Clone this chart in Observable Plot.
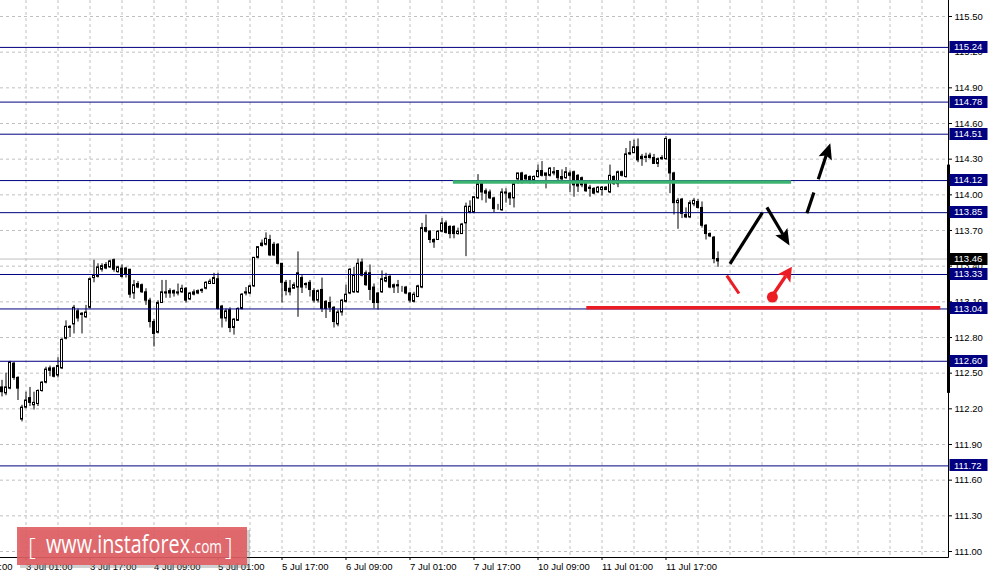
<!DOCTYPE html>
<html><head><meta charset="utf-8">
<script src="https://cdn.jsdelivr.net/npm/d3@7"></script>
<script src="https://cdn.jsdelivr.net/npm/@observablehq/plot@0.6"></script>
<style>
html,body{margin:0;padding:0;background:#fff;}
#chart svg{display:block;}
</style></head><body><div id="chart"></div>
<script>
// ---- H1 candles (bar index 0 = first visible bar) ----
const openP = [112.38,112.33,112.37,112.58,112.46,112.11,112.21,112.29,112.23,112.24,
112.35,112.42,112.54,112.54,112.48,112.54,112.79,112.88,112.91,113.02,
113.00,112.97,113.05,113.30,113.31,113.37,113.41,113.39,113.45,113.35,
113.38,113.38,113.37,113.17,113.25,113.24,113.18,113.11,112.93,112.84,
113.09,113.17,113.19,113.19,113.17,113.18,113.21,113.12,113.16,113.17,
113.20,113.21,113.25,113.25,113.29,113.06,112.96,113.03,112.88,112.94,
113.04,113.18,113.17,113.23,113.47,113.57,113.58,113.62,113.58,113.58,
113.42,113.26,113.21,113.21,113.22,113.30,113.24,113.26,113.19,113.11,
113.20,113.10,113.09,113.05,112.91,113.01,113.10,113.17,113.18,113.18,
113.43,113.34,113.34,113.22,113.17,113.18,113.27,113.31,113.22,113.24,
113.21,113.22,113.17,113.10,113.14,113.22,113.72,113.69,113.62,113.62,
113.69,113.76,113.73,113.73,113.67,113.67,113.76,113.85,113.85,113.97,
114.09,114.03,114.02,113.97,113.89,113.87,114.01,114.01,113.97,114.13,
114.18,114.16,114.15,114.12,114.15,114.20,114.16,114.16,114.19,114.20,
114.15,114.14,114.18,114.19,114.16,114.14,114.10,114.06,114.05,114.02,
114.04,114.06,114.02,114.15,114.09,114.19,114.15,114.35,114.35,114.40,
114.32,114.32,114.33,114.31,114.26,114.31,114.30,114.46,114.18,113.93,
113.96,113.83,113.81,113.92,113.94,113.89,113.74,113.67,113.64,113.44];
const highP = [112.44,112.50,112.60,112.59,112.47,112.23,112.34,112.38,112.34,112.36,
112.43,112.55,112.56,112.55,112.63,112.79,112.94,112.90,113.07,113.04,
113.01,113.07,113.30,113.45,113.42,113.42,113.43,113.45,113.46,113.40,
113.41,113.39,113.37,113.28,113.27,113.25,113.21,113.13,112.95,113.11,
113.28,113.28,113.21,113.20,113.25,113.24,113.22,113.18,113.20,113.20,
113.21,113.27,113.29,113.34,113.34,113.07,113.04,113.05,112.96,113.05,
113.17,113.22,113.24,113.47,113.56,113.62,113.68,113.66,113.60,113.59,
113.42,113.28,113.28,113.26,113.52,113.32,113.26,113.28,113.21,113.20,
113.30,113.11,113.14,113.06,113.03,113.12,113.24,113.38,113.39,113.46,
113.46,113.36,113.41,113.25,113.18,113.36,113.34,113.32,113.25,113.28,
113.23,113.23,113.18,113.18,113.24,113.76,113.83,113.70,113.63,113.70,
113.80,113.78,113.74,113.74,113.72,113.76,113.93,113.95,113.98,114.17,
114.09,114.05,114.04,113.98,113.92,114.05,114.05,114.02,114.09,114.18,
114.19,114.17,114.16,114.16,114.25,114.28,114.18,114.23,114.23,114.20,
114.21,114.23,114.20,114.20,114.17,114.15,114.10,114.08,114.06,114.07,
114.07,114.07,114.25,114.16,114.20,114.20,114.39,114.45,114.46,114.47,
114.34,114.35,114.35,114.34,114.31,114.33,114.49,114.47,114.19,113.97,
113.97,113.89,113.95,113.97,113.96,113.94,113.75,113.68,113.65,113.52];
const lowP = [112.30,112.31,112.36,112.44,112.27,112.09,112.20,112.22,112.19,112.22,
112.34,112.41,112.47,112.46,112.46,112.53,112.78,112.80,112.83,112.93,
112.83,112.96,113.04,113.26,113.30,113.35,113.37,113.38,113.35,113.34,
113.30,113.30,113.13,113.12,113.21,113.17,113.07,112.88,112.72,112.83,
113.09,113.13,113.13,113.14,113.15,113.17,113.09,113.11,113.15,113.16,
113.17,113.20,113.25,113.25,113.03,112.88,112.93,112.84,112.82,112.94,
113.03,113.15,113.16,113.22,113.46,113.56,113.57,113.48,113.48,113.41,
113.09,113.15,113.15,113.21,112.97,113.17,113.21,113.14,113.09,113.09,
113.01,112.96,113.01,112.88,112.89,112.98,113.09,113.16,113.17,113.17,
113.31,113.23,113.11,113.04,113.03,113.17,113.26,113.21,113.17,113.17,
113.18,113.16,113.09,113.09,113.14,113.21,113.68,113.59,113.55,113.62,
113.68,113.67,113.63,113.63,113.66,113.67,113.48,113.84,113.84,113.96,
113.95,113.93,113.96,113.85,113.87,113.86,113.93,113.91,113.89,114.09,
114.09,114.12,114.09,114.09,114.14,114.15,114.05,114.15,114.16,114.12,
114.12,114.13,114.02,113.98,114.02,114.06,114.02,113.98,114.00,114.01,
113.99,114.04,114.01,114.08,114.06,114.15,114.14,114.33,114.35,114.27,
114.24,114.27,114.30,114.26,114.23,114.29,114.29,114.01,113.83,113.71,
113.80,113.80,113.80,113.90,113.88,113.72,113.62,113.64,113.42,113.39];
const closeP = [112.34,112.38,112.59,112.46,112.37,112.21,112.27,112.25,112.25,112.35,
112.42,112.53,112.52,112.47,112.56,112.78,112.89,112.89,113.05,112.96,
112.99,113.01,113.29,113.32,113.39,113.40,113.38,113.44,113.37,113.39,
113.31,113.33,113.16,113.24,113.22,113.18,113.11,112.93,112.83,113.09,
113.18,113.18,113.17,113.17,113.18,113.21,113.11,113.17,113.18,113.19,
113.19,113.26,113.27,113.30,113.04,112.96,113.02,112.88,112.95,113.04,
113.16,113.17,113.23,113.47,113.56,113.59,113.63,113.49,113.49,113.42,
113.26,113.19,113.18,113.24,113.34,113.22,113.25,113.20,113.11,113.19,
113.04,113.04,113.05,112.93,113.01,113.11,113.16,113.37,113.32,113.42,
113.32,113.24,113.20,113.09,113.09,113.29,113.30,113.22,113.24,113.23,
113.21,113.17,113.11,113.16,113.23,113.72,113.69,113.62,113.60,113.69,
113.76,113.68,113.67,113.67,113.69,113.75,113.90,113.90,113.98,114.09,
114.02,114.01,113.97,113.88,113.89,114.02,114.02,113.97,114.09,114.18,
114.10,114.13,114.12,114.15,114.20,114.16,114.18,114.22,114.18,114.14,
114.13,114.19,114.16,114.08,114.07,114.08,114.03,114.05,114.01,114.06,
114.06,114.04,114.16,114.09,114.19,114.16,114.34,114.34,114.40,114.29,
114.30,114.31,114.31,114.26,114.30,114.30,114.47,114.18,113.93,113.95,
113.84,113.81,113.93,113.95,113.89,113.74,113.67,113.65,113.46,113.46];

// ---- axes ----
const timeTickBars = [-9, 6, 22, 38, 54, 70, 86, 102, 118, 134, 150, 166];
const timeTickLabels = ["2 Jul 09:00","3 Jul 01:00","3 Jul 17:00","4 Jul 09:00","5 Jul 01:00","5 Jul 17:00","6 Jul 09:00","7 Jul 01:00","7 Jul 17:00","10 Jul 09:00","11 Jul 01:00","11 Jul 17:00"];
const priceTicks = [111.00,111.30,111.60,111.90,112.20,112.50,112.80,113.10,113.40,113.70,114.00,114.30,114.60,114.90,115.20,115.50];
const gridBars = [6,14,22,30,38,46,54,62,70,78,86,94,102,110,118,126,134,142,150,158,166,174,182,190,198,206,214,222,230];

// ---- levels & annotations ----
const levelPrices = [115.24,114.78,114.51,114.12,113.85,113.33,113.04,112.60,111.72];
const bidPrice = 113.46;
const rangeBar = [112.33, 114.25];
const greenSegBars = [112.85, 197.4];
const greenSegPrice = 114.12;
const redSegBars = [146.2, 234.7];
const redSegPrice = 113.04;
const redStrokeSeg = [[181.2, 113.32], [184.25, 113.17]];
const blackLeg = [[182.0, 113.42], [190.1, 113.85]];
const blackArrowDown = [[191.35, 113.89], [197.0, 113.57]];
const blackArrowUpDashed = [[201.35, 113.84], [207.2, 114.43]];
const redDot = [192.6, 113.14];
const redArrowUp = [[192.6, 113.14], [197.6, 113.39]];

const NAVY = "#000080", RED = "#ec1c24", GREEN = "#3cb371", GRID = "#c0c0c0";

const candles = openP.map((o, i) => ({i, o, h: highP[i], l: lowP[i], c: closeP[i]}));
const bulls = candles.filter(d => d.c >= d.o);
const bears = candles.filter(d => d.c < d.o);

function arrowsMark(index, scales) {
  const g = d3.create("svg:g");
  const specs = [
    {a: blackArrowDown, color: "#000", dash: null, w: 3.2, L: 16, W: 7},
    {a: blackArrowUpDashed, color: "#000", dash: "22,14,40", w: 3.2, L: 16, W: 7},
    {a: redArrowUp, color: RED, dash: null, w: 3.5, L: 14, W: 7.5}
  ];
  for (const s of specs) {
    const x1 = scales.x(s.a[0][0]), y1 = scales.y(s.a[0][1]);
    const x2 = scales.x(s.a[1][0]), y2 = scales.y(s.a[1][1]);
    const len = Math.hypot(x2 - x1, y2 - y1);
    const ux = (x2 - x1) / len, uy = (y2 - y1) / len, nx = -uy, ny = ux;
    const ex = x2 - ux * s.L * 0.8, ey = y2 - uy * s.L * 0.8;
    const ln = g.append("line").attr("x1", x1).attr("y1", y1).attr("x2", ex).attr("y2", ey)
      .attr("stroke", s.color).attr("stroke-width", s.w);
    if (s.dash) ln.attr("stroke-dasharray", s.dash);
    const bx = x2 - ux * s.L, by = y2 - uy * s.L;
    g.append("polygon")
      .attr("points", [[x2, y2], [bx + nx * s.W, by + ny * s.W], [bx + ux * 3, by + uy * 3], [bx - nx * s.W, by - ny * s.W]].map(p => p.join(",")).join(" "))
      .attr("fill", s.color);
  }
  return g.node();
}

function overlayMark(index, scales, values, dims) {
  const {width, height, marginRight, marginBottom} = dims;
  const xr = width - marginRight, yb = height - marginBottom;
  const g = d3.create("svg:g").attr("text-anchor", "start");
  // frame lines
  g.append("line").attr("x1", 0).attr("x2", xr + 0.5).attr("y1", yb + 0.5).attr("y2", yb + 0.5).attr("stroke", "#000");
  g.append("line").attr("x1", xr + 0.5).attr("x2", xr + 0.5).attr("y1", 0).attr("y2", yb + 0.5).attr("stroke", "#000");
  // range bar on the price axis
  g.append("line").attr("x1", xr + 0.5).attr("x2", xr + 0.5)
    .attr("y1", scales.y(rangeBar[1])).attr("y2", scales.y(rangeBar[0]))
    .attr("stroke", "#000").attr("stroke-width", 3);
  // level labels
  const boxes = levelPrices.map(p => ({p, fill: NAVY})).concat([{p: bidPrice, fill: "#000"}]);
  for (const b of boxes) {
    const y = scales.y(b.p);
    g.append("rect").attr("x", xr + 1.5).attr("y", Math.round(y) - 6).attr("width", width - xr - 3).attr("height", 12).attr("fill", b.fill);
    g.append("text").attr("x", xr + 6).attr("y", y).attr("dy", "0.35em").attr("fill", "#fff").attr("text-anchor", "start").text(b.p.toFixed(2));
  }
  // watermark logo
  const lg = g.append("g").attr("text-anchor", "start");
  lg.append("rect").attr("x", 20).attr("y", 530).attr("width", 230).attr("height", 38).attr("fill", "#777").attr("opacity", 0.35);
  lg.append("rect").attr("x", 17).attr("y", 527).attr("width", 230).attr("height", 38).attr("fill", "#df5c61").attr("opacity", 0.9);
  const f = "'Open Sans', 'Noto Sans', sans-serif";
  lg.append("text").attr("x", 28).attr("y", 555).attr("fill", "#fff").attr("font-family", f).attr("font-size", 24).attr("font-weight", 300).text("[");
  lg.append("text").attr("x", 46).attr("y", 553).attr("fill", "#fff").attr("font-family", f).attr("font-size", 26)
    .attr("textLength", 144).attr("lengthAdjust", "spacingAndGlyphs").text("www.instaforex");
  lg.append("text").attr("x", 191).attr("y", 553).attr("fill", "#fff").attr("font-family", f).attr("font-size", 18)
    .attr("textLength", 31).attr("lengthAdjust", "spacingAndGlyphs").text(".com");
  lg.append("text").attr("x", 225).attr("y", 555).attr("fill", "#fff").attr("font-family", f).attr("font-size", 24).attr("font-weight", 300).text("]");
  return g.node();
}

const chart = Plot.plot({
  width: 989,
  height: 578,
  marginLeft: 0,
  marginRight: 41,
  marginTop: 0,
  marginBottom: 21,
  style: {fontFamily: "'Liberation Sans', Arial, sans-serif", fontSize: "9.5px", background: "#fff"},
  x: {type: "linear", domain: [0, 179], range: [1.5, 717.5], label: null},
  y: {type: "linear", domain: [111, 115.5], range: [551, 16], label: null},
  marks: [
    Plot.ruleY(priceTicks, {stroke: GRID, strokeDasharray: "3,3"}),
    Plot.ruleX(gridBars, {stroke: GRID, strokeDasharray: "3,3"}),
    Plot.ruleY([bidPrice], {stroke: GRID}),
    Plot.ruleX(candles, {x: "i", y1: "l", y2: "h", stroke: "#000"}),
    Plot.rect(bears, {x1: d => d.i - 0.25, x2: d => d.i + 0.25, y1: "o", y2: "c", fill: "#000", stroke: "#000"}),
    Plot.rect(bulls, {x1: d => d.i - 0.25, x2: d => d.i + 0.25, y1: "o", y2: "c", fill: "#fff", stroke: "#000"}),
    Plot.ruleY(levelPrices, {stroke: NAVY}),
    Plot.ruleY([greenSegPrice], {x1: greenSegBars[0], x2: greenSegBars[1], stroke: GREEN, strokeWidth: 3.5, dy: 1.5}),
    Plot.ruleY([redSegPrice], {x1: redSegBars[0], x2: redSegBars[1], stroke: RED, strokeWidth: 3.5, dy: -1.2}),
    Plot.link([redStrokeSeg], {x1: d => d[0][0], y1: d => d[0][1], x2: d => d[1][0], y2: d => d[1][1], stroke: RED, strokeWidth: 3}),
    Plot.link([blackLeg], {x1: d => d[0][0], y1: d => d[0][1], x2: d => d[1][0], y2: d => d[1][1], stroke: "#000", strokeWidth: 3.2}),
    arrowsMark,
    Plot.dot([redDot], {x: d => d[0], y: d => d[1], r: 5.5, fill: RED}),
    Plot.axisY(priceTicks, {anchor: "right", tickSize: 3, tickPadding: 3, tickFormat: d => d.toFixed(2), label: null}),
    Plot.axisX(timeTickBars, {anchor: "bottom", tickSize: 3, tickPadding: 3, textAnchor: "start", tickFormat: d => timeTickLabels[timeTickBars.indexOf(d)], label: null}),
    overlayMark
  ]
});
document.getElementById("chart").appendChild(chart);
</script>
</body></html>
